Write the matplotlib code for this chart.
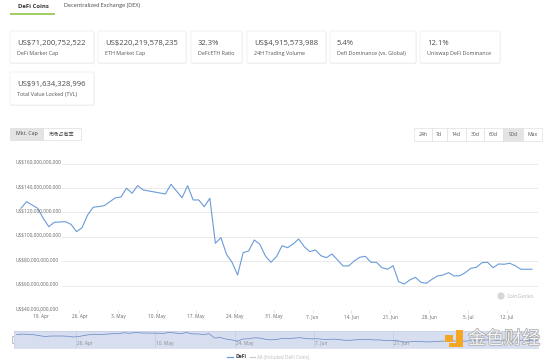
import numpy as np
import matplotlib
matplotlib.use("Agg")
import matplotlib.pyplot as plt
import matplotlib.transforms as mtransforms
import matplotlib.patheffects as pe
from matplotlib.patches import FancyBboxPatch, Rectangle, Circle

plt.rcParams['font.family'] = ['Open Sans', 'Noto Sans CJK SC', 'DejaVu Sans']

# DeFi market cap (billion US$), day offset from 15 Apr 2021 12:00
days = [0, 1, 3, 4, 5, 6, 8, 9, 10, 11, 12, 13, 15, 17, 18, 19, 20, 21, 22, 26, 27, 29, 30, 31,
        32, 33, 34, 35, 36, 37, 38, 39, 40, 41, 42, 43, 44, 45, 46, 47, 48, 49, 50, 51, 52, 53,
        54, 55, 56, 57, 58, 59, 60, 61, 62, 63, 64, 65, 66, 67, 68, 69, 70, 71, 72, 73, 74, 75,
        76, 77, 78, 79, 80, 81, 82, 83, 84, 85, 86, 87, 88, 89, 90, 91, 92]
defi_cap = [123.4, 128.8, 123.4, 115.2, 108.3, 111.9, 112.4, 110.2, 104.2, 107.5, 117.9, 124.2,
            125.5, 132.0, 132.6, 139.8, 135.7, 141.9, 138.4, 135.1, 143.0, 132.0, 141.9, 130.2,
            130.2, 124.7, 131.6, 94.7, 99.3, 85.7, 79.1, 68.7, 87.0, 88.4, 97.4, 93.9, 84.3, 79.1,
            83.7, 92.7, 91.1, 94.1, 98.2, 91.9, 87.8, 89.2, 84.5, 82.9, 85.9, 81.0, 76.1, 76.1,
            80.2, 83.2, 84.0, 79.1, 79.1, 74.7, 73.4, 76.3, 63.2, 61.3, 64.6, 66.8, 62.7, 61.9,
            65.2, 67.9, 68.7, 70.6, 67.9, 68.1, 70.6, 74.2, 75.0, 78.8, 79.1, 74.7, 77.7, 77.5,
            78.3, 76.3, 73.4, 73.4, 73.4]

y_ticks = [40, 60, 80, 100, 120, 140, 160]
y_labels = ['US$40,000,000,000', 'US$60,000,000,000', 'US$80,000,000,000', 'US$100,000,000,000',
            'US$120,000,000,000', 'US$140,000,000,000', 'US$160,000,000,000']
tick_dates = ['2021-04-19', '2021-04-26', '2021-05-03', '2021-05-10', '2021-05-17', '2021-05-24',
              '2021-05-31', '2021-06-07', '2021-06-14', '2021-06-21', '2021-06-28', '2021-07-05',
              '2021-07-12']
tick_labels = ['19. Apr', '26. Apr', '3. May', '10. May', '17. May', '24. May', '31. May',
               '7. Jun', '14. Jun', '21. Jun', '28. Jun', '5. Jul', '12. Jul']
nav_dates = ['2021-04-26', '2021-05-10', '2021-05-24', '2021-06-07', '2021-06-21']
nav_labels = ['26. Apr', '10. May', '24. May', '7. Jun', '21. Jun']

card_values = ['US$71,200,752,522', 'US$220,219,578,235', '32.3%', 'US$4,915,573,988', '5.4%',
               '12.1%', 'US$91,634,328,996']
card_names = ['DeFi Market Cap', 'ETH Market Cap', 'DeFi:ETH Ratio', '24H Trading Volume',
              'Defi Dominance (vs. Global)', 'Uniswap DeFi Dominance', 'Total Value Locked (TVL)']
ranges = ['24h', '7d', '14d', '30d', '60d', '90d', 'Max']

base = np.datetime64('2021-04-15T12:00')
def to_day(d):
    return (np.datetime64(d + 'T00:00') - base) / np.timedelta64(1, 'D')

W, H = 554, 361
fig = plt.figure(figsize=(W / 100, H / 100), dpi=100)
bg = fig.add_axes([0, 0, 1, 1])
bg.set_xlim(0, W)
bg.set_ylim(H, 0)
bg.axis('off')

# tabs
bg.text(18, 6, 'DeFi Coins', fontsize=4.3, weight='bold', color='#333333', va='center')
bg.plot([10, 55], [13.8, 13.8], color='#8dc647', lw=1.2, solid_capstyle='butt')
bg.text(64, 6, 'Decentralized Exchange (DEX)', fontsize=4.0, color='#444444', va='center')

# stat cards
boxes = [(10, 94, 31, 63), (98, 186, 31, 63), (191, 242, 31, 63), (247, 326, 31, 63),
         (330, 416, 31, 63), (420, 500, 31, 63), (10, 94, 72, 105)]
for (x0, x1, y0, y1), val, name in zip(boxes, card_values, card_names):
    bg.add_patch(FancyBboxPatch((x0 + 0.6, y0 + 0.8), x1 - x0, y1 - y0,
                                boxstyle='round,pad=0,rounding_size=1.5',
                                fc='#f0f0f0', ec='none'))
    bg.add_patch(FancyBboxPatch((x0, y0), x1 - x0, y1 - y0,
                                boxstyle='round,pad=0,rounding_size=1.5',
                                fc='white', ec='#ebebeb', lw=0.5))
    bg.text(x0 + 7, y0 + 12.5, val, fontsize=5.5, color='#4a4a4a', va='center')
    bg.text(x0 + 7, y0 + 22.5, name, fontsize=3.9, color='#555555', va='center')

# chart type buttons
bg.add_patch(Rectangle((10, 128), 33, 12, fc='#e4e4e4', ec='#dddddd', lw=0.5))
bg.add_patch(Rectangle((43, 128), 38, 12, fc='white', ec='#dddddd', lw=0.5))
bg.text(26.5, 134, 'Mkt. Cap', fontsize=3.8, color='#444444', ha='center', va='center')
bg.text(62, 134, '市场占有率', fontsize=3.7, color='#444444', ha='center', va='center')

edges = [414, 431.7, 446.7, 466, 484, 503.3, 522.7, 542.3]
for i, r in enumerate(ranges):
    fc = '#e4e4e4' if r == '90d' else 'white'
    bg.add_patch(Rectangle((edges[i], 128), edges[i + 1] - edges[i], 13, fc=fc,
                           ec='#e0e0e0', lw=0.5))
    bg.text((edges[i] + edges[i + 1]) / 2, 134.5, r, fontsize=3.7, color='#555555',
            ha='center', va='center')

# main chart
ax = fig.add_axes([15 / W, 1 - 310 / H, 523 / W, 146.4 / H])
ax.patch.set_alpha(0)
ax.set_xlim(-1.08, 93.09)
ax.set_ylim(40, 160)
for s in ax.spines.values():
    s.set_visible(False)
trans = mtransforms.blended_transform_factory(ax.transAxes, ax.transData)
for v, lab in zip(y_ticks, y_labels):
    col = '#ccd6eb' if v == 40 else '#e6e6e6'
    ax.axhline(v, xmin=47 / 523, xmax=1, color=col, lw=0.6)
    ax.text(0, v + 1.2, lab, transform=trans, fontsize=3.5, color='#666666', va='center')
ax.set_yticks([])
ax.set_xticks([to_day(d) for d in tick_dates])
ax.set_xticklabels(tick_labels, fontsize=3.4, color='#666666')
ax.tick_params(axis='x', length=1.8, width=0.5, color='#ccd6eb', pad=1.1)
ax.plot(days, defi_cap, color='#6a9bd8', lw=0.8)

# CoinGecko mark
bg.add_patch(Circle((501, 296), 3.6, fc='#d6d6d6', ec='none'))
bg.text(507, 296.3, 'CoinGecko', fontsize=4.0, color='#b8b8b8', va='center')

# navigator
nav = fig.add_axes([14 / W, 1 - 348 / H, 524 / W, 17 / H])
nav.set_facecolor('#d6deef')
nav.set_xlim(-0.46, 92.1)
nav.set_ylim(10, 155)
for s in nav.spines.values():
    s.set_color('#c4cce0')
    s.set_linewidth(0.4)
nav.set_xticks([])
nav.set_yticks([])
for d, lab in zip(nav_dates, nav_labels):
    nav.axvline(to_day(d), color='#bcc6de', lw=0.4)
    nav.text(to_day(d) + 0.2, 52, lab, fontsize=3.4, color='#8a8a8a', va='center')
nav.plot(days, defi_cap, color='#6685c2', lw=0.5)
bg.add_patch(Rectangle((12, 336), 4, 7, fc='#f2f2f2', ec='#999999', lw=0.4, zorder=5))

# legend
bg.plot([227, 233], [357, 357], color='#6a9bd8', lw=0.9)
bg.text(235, 357, 'DeFi', fontsize=3.6, weight='bold', color='#333333', va='center')
bg.plot([250, 255], [357, 357], color='#cccccc', lw=0.9)
bg.text(257, 357, 'All (included DeFi Coins)', fontsize=3.4, color='#bbbbbb', va='center')

# watermark
wm = fig.add_axes([0, 0, 1, 1])
wm.set_xlim(0, W)
wm.set_ylim(H, 0)
wm.axis('off')
wm.add_patch(Rectangle((445, 334.5), 7.5, 7.5, fc='#f5a623', ec='none'))
wm.add_patch(Rectangle((455.5, 329.5), 7, 17.5, fc='#f5a623', ec='none'))
wm.add_patch(Rectangle((449, 343), 13.5, 4, fc='#f5a623', ec='none'))
wm.text(468, 339, '金色财经', fontsize=13, color='#f4f4f4', va='center',
        family=['Noto Sans CJK SC', 'DejaVu Sans'],
        path_effects=[pe.withStroke(linewidth=1.0, foreground='#a8a8a8')])

fig.savefig('out.png', dpi=100)
